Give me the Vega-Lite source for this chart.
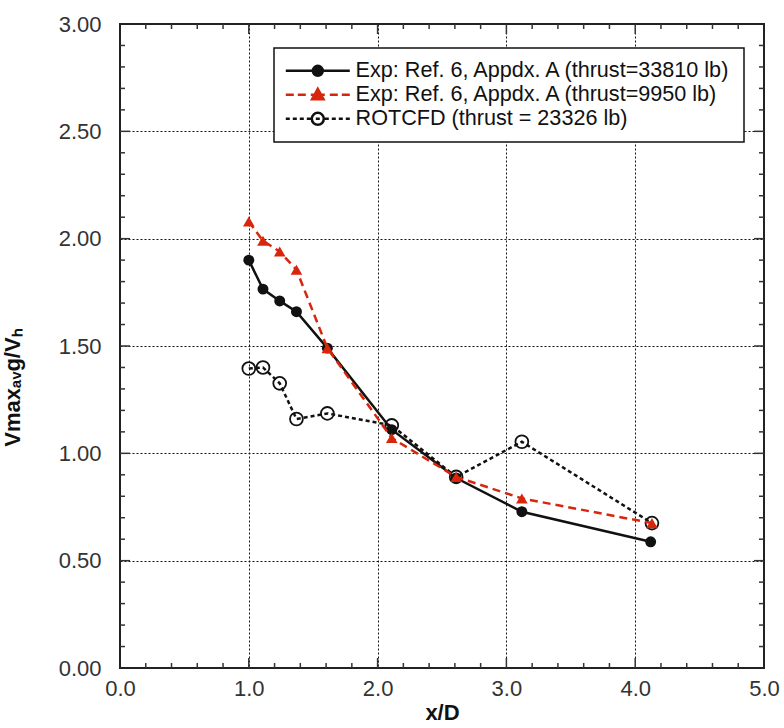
{
  "$schema": "https://vega.github.io/schema/vega-lite/v6.json",
  "width": 644,
  "height": 644,
  "autosize": {"type": "none"},
  "padding": {"left": 120, "top": 24, "right": 20, "bottom": 60},
  "background": "white",
  "config": {
    "view": {"stroke": "#222", "strokeWidth": 2},
    "legend": {"strokeWidth": 1.5}
  },
  "datasets": {
    "xticks": [
      {"t": 0.2, "major": false}, {"t": 0.4, "major": false}, {"t": 0.6, "major": false}, {"t": 0.8, "major": false}, {"t": 1.0, "major": true},
      {"t": 1.2, "major": false}, {"t": 1.4, "major": false}, {"t": 1.6, "major": false}, {"t": 1.8, "major": false}, {"t": 2.0, "major": true},
      {"t": 2.2, "major": false}, {"t": 2.4, "major": false}, {"t": 2.6, "major": false}, {"t": 2.8, "major": false}, {"t": 3.0, "major": true},
      {"t": 3.2, "major": false}, {"t": 3.4, "major": false}, {"t": 3.6, "major": false}, {"t": 3.8, "major": false}, {"t": 4.0, "major": true},
      {"t": 4.2, "major": false}, {"t": 4.4, "major": false}, {"t": 4.6, "major": false}, {"t": 4.8, "major": false}
    ],
    "yticks": [
      {"t": 0.1, "major": false}, {"t": 0.2, "major": false}, {"t": 0.3, "major": false}, {"t": 0.4, "major": false}, {"t": 0.5, "major": true},
      {"t": 0.6, "major": false}, {"t": 0.7, "major": false}, {"t": 0.8, "major": false}, {"t": 0.9, "major": false}, {"t": 1.0, "major": true},
      {"t": 1.1, "major": false}, {"t": 1.2, "major": false}, {"t": 1.3, "major": false}, {"t": 1.4, "major": false}, {"t": 1.5, "major": true},
      {"t": 1.6, "major": false}, {"t": 1.7, "major": false}, {"t": 1.8, "major": false}, {"t": 1.9, "major": false}, {"t": 2.0, "major": true},
      {"t": 2.1, "major": false}, {"t": 2.2, "major": false}, {"t": 2.3, "major": false}, {"t": 2.4, "major": false}, {"t": 2.5, "major": true},
      {"t": 2.6, "major": false}, {"t": 2.7, "major": false}, {"t": 2.8, "major": false}, {"t": 2.9, "major": false}
    ],
    "series": [
      {"series": "Exp: Ref. 6, Appdx. A (thrust=33810 lb)", "x": 1.0, "y": 1.90},
      {"series": "Exp: Ref. 6, Appdx. A (thrust=33810 lb)", "x": 1.11, "y": 1.765},
      {"series": "Exp: Ref. 6, Appdx. A (thrust=33810 lb)", "x": 1.24, "y": 1.71},
      {"series": "Exp: Ref. 6, Appdx. A (thrust=33810 lb)", "x": 1.37, "y": 1.66},
      {"series": "Exp: Ref. 6, Appdx. A (thrust=33810 lb)", "x": 1.61, "y": 1.49},
      {"series": "Exp: Ref. 6, Appdx. A (thrust=33810 lb)", "x": 2.11, "y": 1.11},
      {"series": "Exp: Ref. 6, Appdx. A (thrust=33810 lb)", "x": 2.61, "y": 0.885},
      {"series": "Exp: Ref. 6, Appdx. A (thrust=33810 lb)", "x": 3.12, "y": 0.728},
      {"series": "Exp: Ref. 6, Appdx. A (thrust=33810 lb)", "x": 4.12, "y": 0.588},
      {"series": "Exp: Ref. 6, Appdx. A (thrust=9950 lb)", "x": 1.0, "y": 2.08},
      {"series": "Exp: Ref. 6, Appdx. A (thrust=9950 lb)", "x": 1.11, "y": 1.99},
      {"series": "Exp: Ref. 6, Appdx. A (thrust=9950 lb)", "x": 1.24, "y": 1.94},
      {"series": "Exp: Ref. 6, Appdx. A (thrust=9950 lb)", "x": 1.37, "y": 1.855},
      {"series": "Exp: Ref. 6, Appdx. A (thrust=9950 lb)", "x": 1.61, "y": 1.49},
      {"series": "Exp: Ref. 6, Appdx. A (thrust=9950 lb)", "x": 2.11, "y": 1.071},
      {"series": "Exp: Ref. 6, Appdx. A (thrust=9950 lb)", "x": 2.61, "y": 0.89},
      {"series": "Exp: Ref. 6, Appdx. A (thrust=9950 lb)", "x": 3.12, "y": 0.79},
      {"series": "Exp: Ref. 6, Appdx. A (thrust=9950 lb)", "x": 4.13, "y": 0.675},
      {"series": "ROTCFD (thrust = 23326 lb)", "x": 1.0, "y": 1.395},
      {"series": "ROTCFD (thrust = 23326 lb)", "x": 1.11, "y": 1.40},
      {"series": "ROTCFD (thrust = 23326 lb)", "x": 1.24, "y": 1.326},
      {"series": "ROTCFD (thrust = 23326 lb)", "x": 1.37, "y": 1.16},
      {"series": "ROTCFD (thrust = 23326 lb)", "x": 1.61, "y": 1.186},
      {"series": "ROTCFD (thrust = 23326 lb)", "x": 2.11, "y": 1.13},
      {"series": "ROTCFD (thrust = 23326 lb)", "x": 2.61, "y": 0.89},
      {"series": "ROTCFD (thrust = 23326 lb)", "x": 3.12, "y": 1.054},
      {"series": "ROTCFD (thrust = 23326 lb)", "x": 4.13, "y": 0.675}
    ]
  },
  "layer": [
    {
      "data": {"name": "series"},
      "encoding": {
        "x": {
          "field": "x", "type": "quantitative",
          "title": "x/D",
          "scale": {"domain": [0, 5], "nice": false, "zero": false},
          "axis": {
            "orient": "bottom",
            "values": [0, 1, 2, 3, 4, 5],
            "format": ".1f",
            "labelOverlap": false,
            "labelFlush": false,
            "ticks": false,
            "grid": true,
            "gridOpacity": {"condition": {"test": "datum.value > 0.01 && datum.value < 4.99", "value": 1}, "value": 0},
            "gridDash": [2, 2],
            "gridColor": "#111",
            "gridWidth": 1,
            "domain": false,
            "labelFont": "Liberation Sans",
            "labelFontSize": 22,
            "labelColor": "#333",
            "labelPadding": 10,
            "title": "x/D",
            "titleFont": "Liberation Sans",
            "titleFontSize": 22,
            "titleFontWeight": "bold",
            "titleColor": "#111",
            "titlePadding": 3
          }
        },
        "y": {
          "field": "y", "type": "quantitative",
          "title": "Vmaxₐᵥg/Vₕ",
          "scale": {"domain": [0, 3], "nice": false, "zero": false},
          "axis": {
            "orient": "left",
            "values": [0, 0.5, 1, 1.5, 2, 2.5, 3],
            "format": ".2f",
            "labelOverlap": false,
            "labelFlush": false,
            "ticks": false,
            "grid": true,
            "gridOpacity": {"condition": {"test": "datum.value > 0.01 && datum.value < 2.99", "value": 1}, "value": 0},
            "gridDash": [2, 2],
            "gridColor": "#111",
            "gridWidth": 1,
            "domain": false,
            "labelFont": "Liberation Sans",
            "labelFontSize": 22,
            "labelColor": "#333",
            "labelPadding": 19,
            "title": "Vmaxₐᵥg/Vₕ",
            "titleFont": "Liberation Sans",
            "titleFontSize": 22,
            "titleFontWeight": "bold",
            "titleColor": "#111",
            "titlePadding": 34,
            "titleY": 363
          }
        }
      },
      "layer": [
        {
          "transform": [{"filter": "datum.series === 'Exp: Ref. 6, Appdx. A (thrust=33810 lb)'"}],
          "mark": {"type": "line", "color": "#111", "strokeWidth": 2.5}
        },
        {
          "transform": [{"filter": "datum.series === 'Exp: Ref. 6, Appdx. A (thrust=33810 lb)'"}],
          "mark": {"type": "point", "shape": "circle", "filled": true, "color": "#111", "size": 120, "opacity": 1}
        },
        {
          "transform": [{"filter": "datum.series === 'ROTCFD (thrust = 23326 lb)'"}],
          "mark": {"type": "line", "color": "#111", "strokeWidth": 2.5, "strokeDash": [4, 3]}
        },
        {
          "transform": [{"filter": "datum.series === 'ROTCFD (thrust = 23326 lb)'"}],
          "mark": {"type": "point", "shape": "circle", "filled": false, "color": "#111", "size": 165, "strokeWidth": 1.8, "opacity": 1}
        },
        {
          "transform": [{"filter": "datum.series === 'Exp: Ref. 6, Appdx. A (thrust=9950 lb)'"}],
          "mark": {"type": "line", "color": "#d7260c", "strokeWidth": 2.5, "strokeDash": [8, 5]}
        },
        {
          "transform": [{"filter": "datum.series === 'Exp: Ref. 6, Appdx. A (thrust=9950 lb)'"}],
          "mark": {"type": "point", "shape": "triangle-up", "filled": true, "color": "#d7260c", "size": 135, "opacity": 1}
        }
      ]
    },
    {
      "data": {"name": "xticks"},
      "transform": [{"filter": "datum.major"}],
      "mark": {"type": "rule", "color": "#333", "strokeWidth": 1.5},
      "encoding": {
        "x": {"field": "t", "type": "quantitative", "title": "x/D"},
        "y": {"datum": 0, "type": "quantitative", "title": "Vmaxₐᵥg/Vₕ"},
        "y2": {"datum": 0.0466}
      }
    },
    {
      "data": {"name": "xticks"},
      "transform": [{"filter": "!datum.major"}],
      "mark": {"type": "rule", "color": "#333", "strokeWidth": 1.5},
      "encoding": {
        "x": {"field": "t", "type": "quantitative", "title": "x/D"},
        "y": {"datum": 0, "type": "quantitative", "title": "Vmaxₐᵥg/Vₕ"},
        "y2": {"datum": 0.0233}
      }
    },
    {
      "data": {"name": "xticks"},
      "transform": [{"filter": "datum.major"}],
      "mark": {"type": "rule", "color": "#333", "strokeWidth": 1.5},
      "encoding": {
        "x": {"field": "t", "type": "quantitative", "title": "x/D"},
        "y": {"datum": 3, "type": "quantitative", "title": "Vmaxₐᵥg/Vₕ"},
        "y2": {"datum": 2.9534}
      }
    },
    {
      "data": {"name": "xticks"},
      "transform": [{"filter": "!datum.major"}],
      "mark": {"type": "rule", "color": "#333", "strokeWidth": 1.5},
      "encoding": {
        "x": {"field": "t", "type": "quantitative", "title": "x/D"},
        "y": {"datum": 3, "type": "quantitative", "title": "Vmaxₐᵥg/Vₕ"},
        "y2": {"datum": 2.9767}
      }
    },
    {
      "data": {"name": "yticks"},
      "transform": [{"filter": "datum.major"}],
      "mark": {"type": "rule", "color": "#333", "strokeWidth": 1.5},
      "encoding": {
        "y": {"field": "t", "type": "quantitative", "title": "Vmaxₐᵥg/Vₕ"},
        "x": {"datum": 0, "type": "quantitative", "title": "x/D"},
        "x2": {"datum": 0.0776}
      }
    },
    {
      "data": {"name": "yticks"},
      "transform": [{"filter": "!datum.major"}],
      "mark": {"type": "rule", "color": "#333", "strokeWidth": 1.5},
      "encoding": {
        "y": {"field": "t", "type": "quantitative", "title": "Vmaxₐᵥg/Vₕ"},
        "x": {"datum": 0, "type": "quantitative", "title": "x/D"},
        "x2": {"datum": 0.0388}
      }
    },
    {
      "data": {"name": "yticks"},
      "transform": [{"filter": "datum.major"}],
      "mark": {"type": "rule", "color": "#333", "strokeWidth": 1.5},
      "encoding": {
        "y": {"field": "t", "type": "quantitative", "title": "Vmaxₐᵥg/Vₕ"},
        "x": {"datum": 5, "type": "quantitative", "title": "x/D"},
        "x2": {"datum": 4.9224}
      }
    },
    {
      "data": {"name": "yticks"},
      "transform": [{"filter": "!datum.major"}],
      "mark": {"type": "rule", "color": "#333", "strokeWidth": 1.5},
      "encoding": {
        "y": {"field": "t", "type": "quantitative", "title": "Vmaxₐᵥg/Vₕ"},
        "x": {"datum": 5, "type": "quantitative", "title": "x/D"},
        "x2": {"datum": 4.9612}
      }
    },
    {
      "data": {"name": "series"},
      "transform": [{"filter": "false"}],
      "mark": {"type": "point", "strokeWidth": 2.5, "opacity": 1},
      "encoding": {
        "x": {"field": "x", "type": "quantitative", "title": "x/D"},
        "y": {"field": "y", "type": "quantitative", "title": "Vmaxₐᵥg/Vₕ"},
        "shape": {
          "field": "series", "type": "nominal",
          "scale": {
            "domain": ["Exp: Ref. 6, Appdx. A (thrust=33810 lb)", "Exp: Ref. 6, Appdx. A (thrust=9950 lb)", "ROTCFD (thrust = 23326 lb)"],
            "range": [
              "M-6.4,0H6.4M-1,0A1,1,0,1,0,1,0A1,1,0,1,0,-1,0Z",
              "M-6.4,0H-4.8M-4,0H-2.4M-1.4,0H1.4M2.4,0H4M4.8,0H6.4M0,-1.2L1.15,0.9L-1.15,0.9Z",
              "M-6.4,0H-5.6M-5,0H-4.2M-3.6,0H-2.8M-2.2,0H-1.4M-0.4,0H0.4M1.4,0H2.2M2.8,0H3.6M4.2,0H5M5.6,0H6.4M-1.2,0A1.2,1.2,0,1,0,1.2,0A1.2,1.2,0,1,0,-1.2,0Z"
            ]
          },
          "legend": {"title": null, "orient": "none", "legendX": 154, "legendY": 24, "padding": 12, "strokeColor": "#111", "fillColor": "white", "symbolSize": 100, "symbolStrokeWidth": 2.5, "symbolOffset": 21, "labelOffset": 27, "labelFont": "Liberation Sans", "labelFontSize": 21.6, "labelColor": "#111", "labelLimit": 0, "rowPadding": 1}
        },
        "stroke": {
          "field": "series", "type": "nominal",
          "scale": {
            "domain": ["Exp: Ref. 6, Appdx. A (thrust=33810 lb)", "Exp: Ref. 6, Appdx. A (thrust=9950 lb)", "ROTCFD (thrust = 23326 lb)"],
            "range": ["#111111", "#d7260c", "#111111"]
          },
          "legend": {"title": null, "orient": "none", "legendX": 154, "legendY": 24, "padding": 12, "strokeColor": "#111", "fillColor": "white", "symbolSize": 100, "symbolStrokeWidth": 2.5, "symbolOffset": 21, "labelOffset": 27, "labelFont": "Liberation Sans", "labelFontSize": 21.6, "labelColor": "#111", "labelLimit": 0, "rowPadding": 1}
        },
        "fill": {
          "field": "series", "type": "nominal",
          "scale": {
            "domain": ["Exp: Ref. 6, Appdx. A (thrust=33810 lb)", "Exp: Ref. 6, Appdx. A (thrust=9950 lb)", "ROTCFD (thrust = 23326 lb)"],
            "range": ["#111111", "#d7260c", "transparent"]
          },
          "legend": {"title": null, "orient": "none", "legendX": 154, "legendY": 24, "padding": 12, "strokeColor": "#111", "fillColor": "white", "symbolSize": 100, "symbolStrokeWidth": 2.5, "symbolOffset": 21, "labelOffset": 27, "labelFont": "Liberation Sans", "labelFontSize": 21.6, "labelColor": "#111", "labelLimit": 0, "rowPadding": 1}
        }
      }
    }
  ]
}
